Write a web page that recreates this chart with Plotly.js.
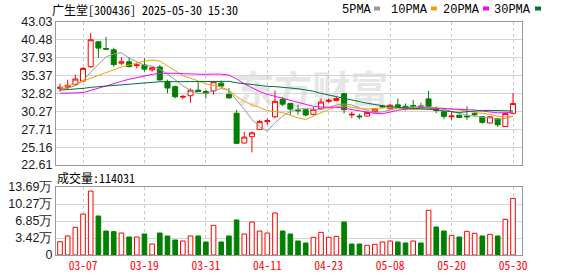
<!DOCTYPE html>
<html><head><meta charset="utf-8">
<script src="https://cdn.plot.ly/plotly-3.0.1.min.js"></script>
<style>html,body{margin:0;padding:0;background:#fff;}#chart{width:578px;height:276px;}</style>
</head><body><div id="chart"></div>
<script>
const dates = ["03-04","03-05","03-06","03-07","03-10","03-11","03-12","03-13","03-14","03-17","03-18","03-19","03-20","03-21","03-24","03-25","03-26","03-27","03-28","03-31",
"04-01","04-02","04-03","04-07","04-08","04-09","04-10","04-11","04-14","04-15","04-16","04-17","04-18","04-21","04-22","04-23","04-24","04-25","04-28","04-29","04-30",
"05-06","05-07","05-08","05-09","05-12","05-13","05-14","05-15","05-16","05-19","05-20","05-21","05-22","05-23","05-26","05-27","05-28","05-29","05-30"];
const openP  = [33.55,33.71,34.08,34.60,36.65,40.20,39.25,39.05,37.15,37.35,36.80,36.90,36.20,36.60,34.50,33.80,32.30,32.50,33.30,33.10,
33.20,34.30,32.70,30.00,25.75,26.65,27.70,28.80,29.50,32.00,31.40,30.45,30.50,29.85,30.65,31.70,31.80,32.80,29.75,29.60,29.60,
30.22,31.00,30.65,31.20,31.00,31.10,31.05,32.05,30.55,30.20,29.50,29.70,29.60,29.95,29.50,28.60,29.20,28.10,30.00];
const highP  = [34.25,34.79,35.50,36.60,41.46,40.30,40.90,39.35,38.00,38.00,37.20,37.85,36.65,36.90,34.80,33.95,32.65,33.55,34.50,33.30,
34.60,34.65,33.60,30.50,27.35,27.40,29.05,29.30,33.25,32.30,31.50,31.20,30.60,30.90,32.10,32.15,32.30,32.90,30.20,29.90,30.20,
30.70,31.20,31.35,32.10,31.40,31.90,31.50,33.20,30.95,30.30,30.20,29.85,31.00,30.25,29.60,29.60,29.30,30.10,32.90];
const lowP   = [33.10,33.36,34.00,34.50,36.50,37.90,39.10,36.65,36.85,36.55,36.40,35.95,35.95,34.70,32.85,32.15,32.00,31.50,33.05,32.10,
32.65,33.70,32.05,25.70,25.70,24.40,27.60,28.35,29.30,31.00,29.75,29.80,29.55,29.70,30.55,31.45,31.70,29.95,29.30,29.15,29.55,
30.10,30.75,30.55,30.85,30.40,30.45,30.80,30.85,30.00,29.15,29.05,29.35,29.05,29.55,28.50,28.55,28.05,28.05,29.90];
const closeP = [33.70,33.99,34.89,36.40,40.50,39.30,39.15,36.95,37.35,36.65,36.90,36.30,36.50,34.75,33.60,32.35,32.40,33.30,33.10,32.85,
34.50,33.90,32.20,25.70,26.60,27.20,28.80,28.95,31.70,31.30,30.60,30.36,29.75,30.55,31.60,31.85,32.10,30.50,29.85,29.50,30.10,
30.60,30.90,31.15,30.95,30.65,31.00,30.90,30.95,30.40,29.55,29.60,29.40,29.50,29.80,28.70,29.50,28.35,29.95,31.40];
const volume = [26800,38300,55700,82500,128800,78500,48300,47000,44300,36200,36200,42300,22100,44300,38300,30200,28200,38300,38300,26200,
59700,26200,38300,70500,42300,66400,48300,44300,84600,48300,42300,28200,24200,35600,45600,35600,37600,66400,22100,22100,19500,
21500,26200,28200,26200,24200,28200,24200,90000,56400,48300,39600,36200,47700,43700,38300,41600,38300,71800,114031];
const ma5  = [33.45,33.60,33.95,34.60,35.90,37.02,38.05,38.46,38.65,37.88,37.40,36.83,36.74,36.28,35.61,34.70,33.92,33.28,32.83,32.80,
33.23,33.53,33.31,31.83,30.58,29.08,28.10,27.45,28.65,29.59,30.27,30.58,30.74,30.51,30.57,30.82,31.17,31.32,31.18,30.76,30.41,
30.11,30.19,30.45,30.74,30.85,30.93,30.93,30.89,30.78,30.56,30.28,29.98,29.69,29.57,29.40,29.38,29.17,29.26,29.58];
const ma10 = [33.65,33.90,34.20,34.60,35.00,35.45,35.90,36.25,36.60,36.89,37.21,37.44,37.60,37.44,36.75,36.05,35.38,35.01,34.59,34.21,
33.97,33.73,33.30,32.39,31.69,31.18,30.82,30.38,30.24,30.09,29.70,29.34,29.10,29.58,30.08,30.55,30.88,31.03,30.85,30.67,30.62,
30.64,30.76,30.82,30.75,30.63,30.52,30.56,30.67,30.76,30.71,30.61,30.46,30.29,30.18,29.98,29.83,29.58,29.48,29.58];
const ma20 = [32.85,32.85,32.88,32.95,33.25,33.60,33.95,34.25,34.55,34.85,35.10,35.35,35.55,35.70,35.75,35.70,35.65,35.60,35.55,35.55,
35.59,35.58,35.45,34.91,34.22,33.61,33.10,32.70,32.41,32.15,31.83,31.53,31.20,30.99,30.89,30.86,30.85,30.71,30.54,30.38,30.16,
29.99,29.93,30.20,30.42,30.59,30.70,30.80,30.76,30.71,30.66,30.62,30.61,30.55,30.46,30.31,30.18,30.07,30.07,30.17];
const ma30 = [33.30,33.35,33.40,33.55,33.70,33.80,33.90,34.00,34.10,34.20,34.30,34.40,34.45,34.50,34.50,34.50,34.50,34.52,34.55,34.55,
34.60,34.60,34.55,34.35,34.20,34.05,33.95,33.85,33.80,33.73,33.62,33.50,33.33,33.14,32.84,32.59,32.36,32.14,31.89,31.65,31.43,
31.24,31.05,30.93,30.84,30.78,30.74,30.66,30.59,30.50,30.34,30.20,30.10,30.23,30.34,30.39,30.41,30.39,30.33,30.33];
const xTickLabels = ["03-07","03-19","03-31","04-11","04-23","05-08","05-20","05-30"];
const priceTicks = [22.61,25.16,27.71,30.27,32.82,35.37,37.93,40.48,43.03];
const volTicks = [0,34225,68450,102675,136900];
const volTickText = ["0","3.42万","6.85万","10.27万","13.69万"];
const maNames = ["5PMA","10PMA","20PMA","30PMA"];
const stockTitle = "广生堂[300436] 2025-05-30 15:30";

const RED = "#ff0000", GREEN = "#008000";
const maColors = ["#999999","#f2a200","#ff00ff","#00703c"];
const mono = "'Noto Sans Mono CJK SC','Liberation Mono',monospace";
const lmono = "'Liberation Mono',monospace";
const sans = "'Liberation Sans',Arial,sans-serif";

// volume colors: up vs previous close
const volUp = closeP.map((c,i)=> i===0 ? c>=openP[0] : c>=closeP[i-1]);
const volFill = volUp.map(u=> u ? "#ffffff" : GREEN);
const volLine = volUp.map(u=> u ? RED : GREEN);

const W=578,H=276,L=56,R=56,T=22,B=21;
const pw=W-L-R, ph=H-T-B;
const px = x => (x-L)/pw;
const py = y => (H-B-y)/ph;
const priceDom=[py(165),1], volDom=[0,py(187)];
const xr=[-0.52,60.17];

const traces = [
 {type:'scatter',mode:'text',x:[0.55],y:[0.5],text:['东方财富'],xaxis:'x',yaxis:'y',
  textfont:{family:"'Noto Sans CJK SC',sans-serif",size:38,color:'#e6e6e6',weight:700},hoverinfo:'skip'},
 {type:'candlestick',x:dates,open:openP,high:highP,low:lowP,close:closeP,xaxis:'x2',yaxis:'y2',
  increasing:{line:{color:RED,width:1},fillcolor:'#ffffff'},
  decreasing:{line:{color:GREEN,width:1},fillcolor:GREEN},whiskerwidth:0,hoverinfo:'skip'},
];
[ma5,ma10,ma20,ma30].forEach((m,i)=>traces.push({type:'scatter',mode:'lines',x:dates,y:m,xaxis:'x2',yaxis:'y2',
  line:{color:maColors[i],width:1},hoverinfo:'skip'}));
traces.push({type:'bar',x:dates,y:volume,xaxis:'x3',yaxis:'y3',width:0.6,
  marker:{color:volFill,line:{color:volLine,width:1}},hoverinfo:'skip'});

const axBase = {showline:true,mirror:true,linecolor:'#9a9a9a',linewidth:1,zeroline:false,ticks:'',fixedrange:true};
const layout = {
 width:W,height:H,margin:{l:L,r:R,t:T,b:B,pad:0},paper_bgcolor:'#fff',plot_bgcolor:'rgba(0,0,0,0)',
 showlegend:false,boxgap:0.35,boxgroupgap:0,
 xaxis:{domain:[0,1],range:[0,1],visible:false,fixedrange:true},
 yaxis:{domain:priceDom,range:[0,1],visible:false,fixedrange:true},
 xaxis2:Object.assign({},axBase,{anchor:'y2',type:'category',categoryarray:dates,range:xr,tickvals:xTickLabels,
   showticklabels:false,showgrid:true,griddash:'3px,3px',gridcolor:'#cccccc',rangeslider:{visible:false}}),
 yaxis2:Object.assign({},axBase,{anchor:'x2',domain:priceDom,range:[22.61,43.03],tickvals:priceTicks,
   ticktext:priceTicks.map(v=>v.toFixed(2)),showgrid:true,gridcolor:'#d4d4d4',
   tickfont:{family:sans,size:12.5,color:'#1a1a1a'}}),
 xaxis3:Object.assign({},axBase,{anchor:'y3',type:'category',categoryarray:dates,range:xr,tickvals:xTickLabels,
   ticktext:xTickLabels,showgrid:true,griddash:'3px,3px',gridcolor:'#cccccc',
   tickfont:{family:mono,size:11.5,color:RED}}),
 yaxis3:Object.assign({},axBase,{anchor:'x3',domain:volDom,range:[0,136900],tickvals:volTicks,ticktext:volTickText,
   showgrid:true,gridcolor:'#d4d4d4',tickfont:{family:sans,size:12.5,color:'#1a1a1a'}}),
 annotations:[],shapes:[]
};
const yHead = 1+(T-9.6)/ph;
layout.annotations.push({xref:'paper',yref:'paper',x:px(50),y:yHead,xanchor:'left',yanchor:'middle',showarrow:false,
  text:stockTitle,font:{family:mono,size:12,color:'#000'}});
const legX=[342,391,443,494], sqX=[374,431,483,535];
maNames.forEach((n,i)=>{
  layout.annotations.push({xref:'paper',yref:'paper',x:px(legX[i]-2),y:yHead,xanchor:'left',yanchor:'middle',showarrow:false,
    text:n,font:{family:lmono,size:12,color:'#000'}});
  layout.shapes.push({type:'rect',xref:'paper',yref:'paper',x0:px(sqX[i]),x1:px(sqX[i]+6),y0:1+(T-10.5)/ph,y1:1+(T-6.5)/ph,
    fillcolor:maColors[i],line:{width:0}});
});
layout.annotations.push({xref:'paper',yref:'paper',x:px(55),y:py(177),xanchor:'left',yanchor:'middle',showarrow:false,
  text:'成交量:'+volume[volume.length-1],font:{family:mono,size:12,color:'#000'}});

Plotly.newPlot('chart',traces,layout,{staticPlot:true,displayModeBar:false});
</script></body></html>
